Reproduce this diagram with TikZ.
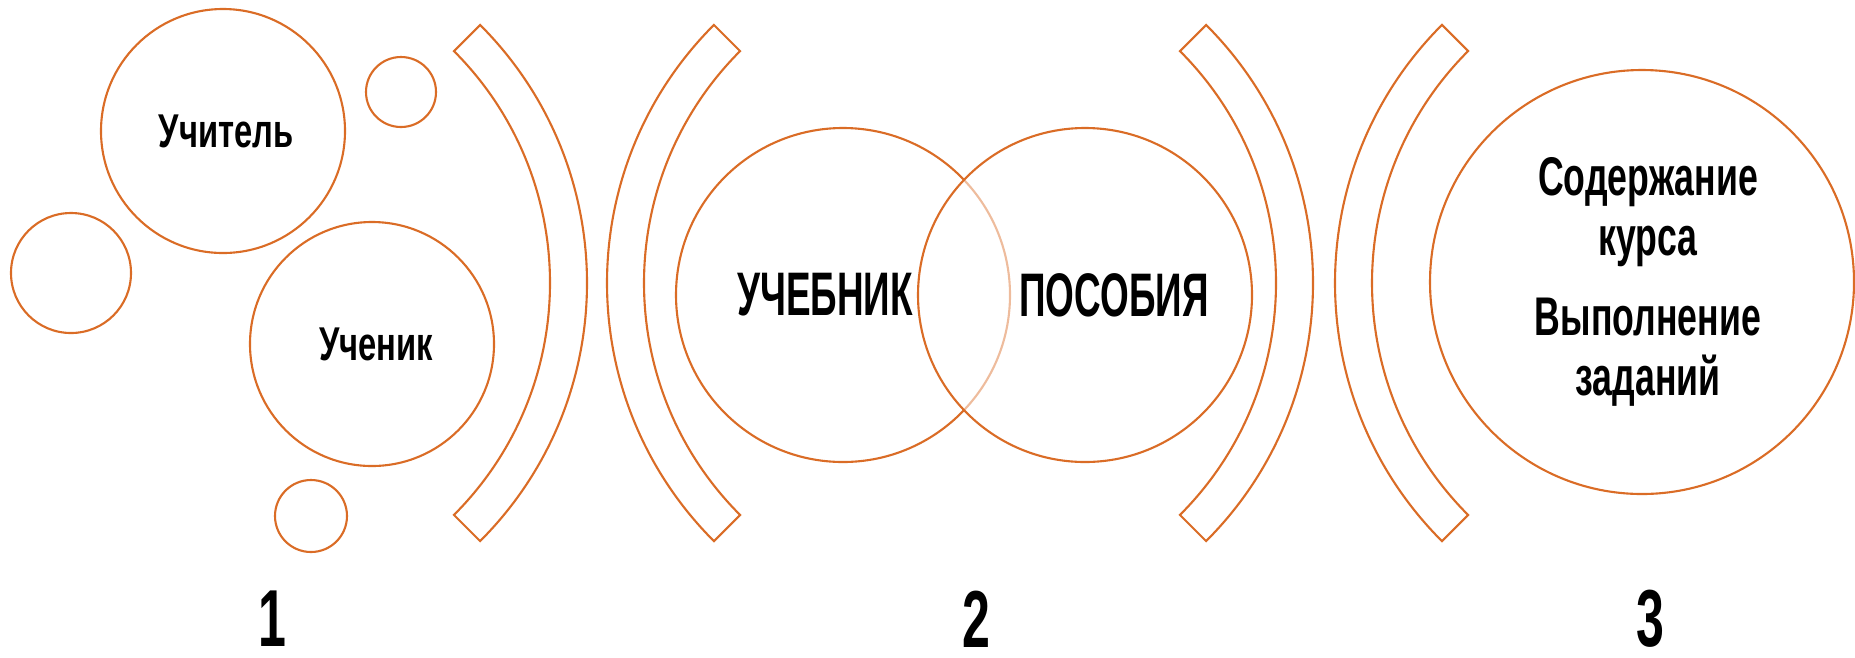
\documentclass[tikz,border=0pt]{standalone}
\usepackage{fontspec}
\setmainfont{Liberation Sans}[FakeStretch=0.7]
\newfontfamily\wordfont{Liberation Sans}[FakeStretch=0.69]
\newfontfamily\capsfont{Liberation Sans}[FakeStretch=0.6]
\newfontfamily\linesfont{Liberation Sans}[FakeStretch=0.655]
\newfontfamily\digitfont{Liberation Sans}[FakeStretch=0.62]
\definecolor{ring}{RGB}{218,108,38}
\tikzset{
  rim/.style={draw=ring,line width=1.2pt},
  word/.style={inner sep=0pt,font=\wordfont\bfseries\fontsize{27}{30}\selectfont},
  bigword/.style={inner sep=0pt,font=\capsfont\bfseries\fontsize{35}{38}\selectfont},
  lines/.style={inner sep=0pt,align=center,font=\linesfont\bfseries\fontsize{31}{34}\selectfont},
  digit/.style={inner sep=0pt,font=\digitfont\bfseries\fontsize{46}{48}\selectfont},
}
% band shaped like a bracket, opening left (#1 = centre x)
\newcommand{\band}[1]{%
  \draw[rim] ([shift={(#1,283)}]-45:365) arc[start angle=-45,end angle=45,radius=365]
    -- ([shift={(#1,283)}]45:328) arc[start angle=45,end angle=-45,radius=328] -- cycle;}
% same, opening right
\newcommand{\bandl}[1]{%
  \draw[rim] ([shift={(#1,283)}]135:365) arc[start angle=135,end angle=225,radius=365]
    -- ([shift={(#1,283)}]225:328) arc[start angle=225,end angle=135,radius=328] -- cycle;}
\begin{document}
\begin{tikzpicture}
[x=0.02cm,y=-0.02cm]
\useasboundingbox (0,0) rectangle (1855,657);
% part 1
\draw[rim] (223,131) circle[radius=122];
\draw[rim] (372,344) circle[radius=122];
\draw[rim] (401,92) circle[radius=35];
\draw[rim] (71,273) circle[radius=60];
\draw[rim] (311,516) circle[radius=36];
\draw (226,131) node[word] (teacher) {Учитель};
\draw (376,344) node[word] (pupil) {Ученик};
\band{222}
\bandl{972}
% part 2
\draw[rim] (843,295) circle[radius=167];
\draw[rim,fill=white,fill opacity=0.55] (1085,295) circle[radius=167];
\draw (825,295) node[bigword] (book) {УЧЕБНИК};
\draw (1114,295) node[bigword] (aids) {ПОСОБИЯ};
\band{948}
\bandl{1700}
% part 3
\draw[rim] (1642,282) circle[radius=212];
\draw (1648,212) node[lines] (content) {Содержание\\курса};
\draw (1648,352) node[lines] (tasks) {Выполнение\\заданий};
\draw (272,619) node[digit] (one) {1};
\draw (976,619) node[digit] (two) {2};
\draw (1650,619) node[digit] (three) {3};
\end{tikzpicture}
\end{document}
